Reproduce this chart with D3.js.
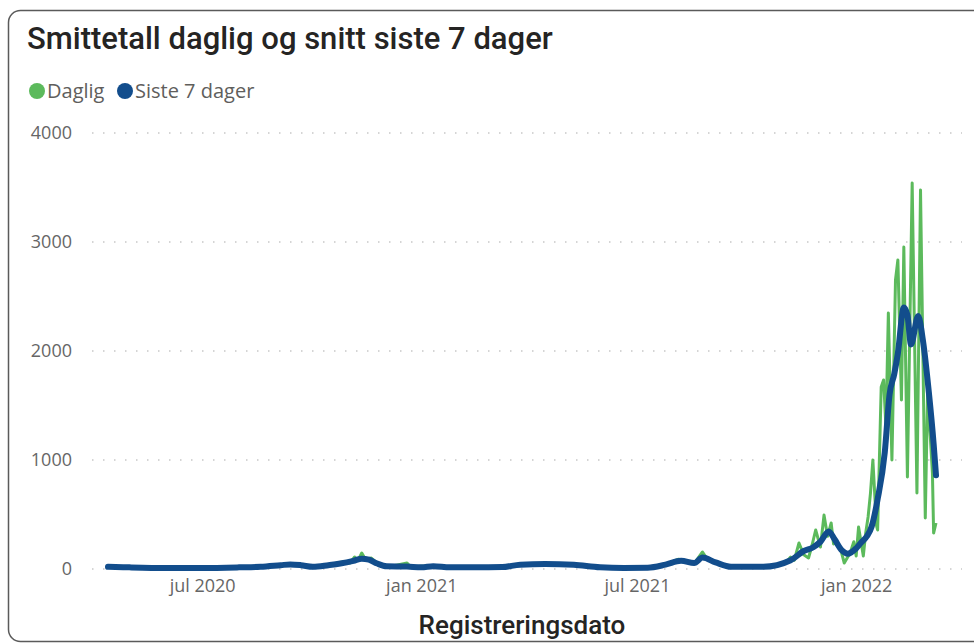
<!DOCTYPE html>
<html>
<head>
<meta charset="utf-8">
<script src="https://cdn.jsdelivr.net/npm/d3@7"></script>
<style>
  body { margin: 0; background: #fff; }
  svg { display: block; }
</style>
</head>
<body>
<div id="chart"></div>
<script>
var svgWidth = 974;
var svgHeight = 643;

// Daily cases ("Daglig")
var dailyDates = [
  "2020-04-13","2020-04-20","2020-05-05","2020-06-01","2020-07-01","2020-08-01","2020-08-20",
  "2020-09-06","2020-09-12","2020-09-20","2020-10-02","2020-10-18","2020-10-27","2020-11-02",
  "2020-11-06","2020-11-09","2020-11-12","2020-11-15","2020-11-20","2020-11-26","2020-12-05",
  "2020-12-20","2020-12-23","2021-01-11","2021-01-25","2021-02-15","2021-03-10","2021-03-25",
  "2021-04-10","2021-04-20","2021-05-09","2021-05-31","2021-06-20","2021-07-10","2021-07-25",
  "2021-08-05","2021-08-12","2021-08-18","2021-08-25","2021-08-29","2021-09-05","2021-09-18",
  "2021-10-15","2021-10-25","2021-11-03","2021-11-07","2021-11-10","2021-11-14","2021-11-18",
  "2021-11-22","2021-11-25","2021-11-28","2021-12-02","2021-12-05","2021-12-08","2021-12-11",
  "2021-12-13","2021-12-15","2021-12-19","2021-12-22","2021-12-27","2021-12-30","2022-01-01",
  "2022-01-03","2022-01-07","2022-01-09","2022-01-11","2022-01-13","2022-01-15","2022-01-18",
  "2022-01-19","2022-01-22","2022-01-24","2022-01-26","2022-01-28","2022-01-31","2022-02-03",
  "2022-02-05","2022-02-08","2022-02-10","2022-02-13","2022-02-17","2022-02-21","2022-02-24",
  "2022-02-28","2022-03-02","2022-03-04","2022-03-06","2022-03-07","2022-03-09"
];
var dailyValues = [
  25, 15, 12, 8, 10, 18, 25,
  40, 50, 30, 22, 45, 64, 55,
  110, 80, 147, 90, 100, 45, 20,
  55, 20, 30, 15, 18, 20, 45,
  50, 40, 42, 15, 10, 14, 45,
  90, 70, 50, 156, 90, 60, 20,
  22, 40, 60, 110, 80, 239, 130,
  101, 220, 358, 202, 495, 300, 422,
  230, 250, 180, 55, 150, 250, 120,
  385, 120, 330, 477, 697, 1000, 400,
  358, 1670, 1734, 1300, 2349, 1000, 2651,
  2835, 1550, 2954, 844, 3541, 697, 3477,
  468, 1642, 1250, 881, 330, 422
];

// 7-day average ("Siste 7 dager")
var avgDates = [
  "2020-04-13","2020-05-01","2020-06-01","2020-07-01","2020-08-01","2020-08-19","2020-09-05",
  "2020-09-13","2020-09-22","2020-10-02","2020-10-15","2020-10-25","2020-11-05","2020-11-12",
  "2020-11-18","2020-11-25","2020-12-03","2020-12-20","2021-01-01","2021-01-11","2021-01-25",
  "2021-02-15","2021-03-10","2021-03-25","2021-04-15","2021-05-09","2021-05-31","2021-06-20",
  "2021-07-10","2021-07-25","2021-08-07","2021-08-18","2021-08-25","2021-09-05","2021-09-18",
  "2021-10-15","2021-11-07","2021-11-18","2021-11-26","2021-12-02","2021-12-09","2021-12-14",
  "2021-12-20","2021-12-25","2022-01-01","2022-01-05","2022-01-10","2022-01-14","2022-01-19",
  "2022-01-25","2022-01-29","2022-02-02","2022-02-05","2022-02-10","2022-02-13","2022-02-16",
  "2022-02-22","2022-02-26","2022-03-03","2022-03-07","2022-03-09"
];
var avgValues = [
  20, 15, 10, 10, 15, 20, 35,
  42, 35, 20, 35, 50, 75, 95,
  85, 50, 25, 22, 15, 25, 15,
  15, 18, 40, 45, 38, 15, 10,
  12, 40, 75, 55, 105, 60, 20,
  20, 80, 165, 200, 250, 345, 270,
  170, 140, 190, 240, 300, 390, 640,
  1070, 1600, 1790, 1980, 2400, 2330, 2060,
  2320, 2100, 1620, 1150, 860
];

var yTicks = [0, 1000, 2000, 3000, 4000];
var xTickDates = ["2020-07-01", "2021-01-01", "2021-07-01", "2022-01-01"];
var xTickLabels = ["jul 2020", "jan 2021", "jul 2021", "jan 2022"];

var seriesNames = ["Daglig", "Siste 7 dager"];
var seriesColors = ["#5cba5c", "#124d8c"];

var parseDate = d3.timeParse("%Y-%m-%d");
var daily = dailyDates.map((d, i) => ({ date: parseDate(d), value: dailyValues[i] }));
var avg = avgDates.map((d, i) => ({ date: parseDate(d), value: avgValues[i] }));

var svg = d3.select("#chart")
  .append("svg")
  .attr("width", svgWidth)
  .attr("height", svgHeight);

// card border (runs off the right edge)
svg.append("rect")
  .attr("x", 8.5)
  .attr("y", 10.5)
  .attr("width", 1000)
  .attr("height", 631)
  .attr("rx", 12)
  .attr("fill", "#fff")
  .attr("stroke", "#5a5a5a")
  .attr("stroke-width", 1.5);

svg.append("text")
  .attr("x", 27)
  .attr("y", 49)
  .attr("font-family", "Roboto")
  .attr("font-weight", 500)
  .attr("font-size", 31)
  .attr("fill", "#252423")
  .text("Smittetall daglig og snitt siste 7 dager");

// legend
var legend = svg.append("g").attr("transform", "translate(37, 91)");
var legendX = [0, 88];
seriesNames.forEach((name, i) => {
  var g = legend.append("g").attr("transform", `translate(${legendX[i]}, 0)`);
  g.append("circle").attr("r", 8).attr("fill", seriesColors[i]);
  g.append("text")
    .attr("x", 10)
    .attr("y", 7)
    .attr("font-family", "Open Sans")
    .attr("font-size", 20)
    .attr("fill", "#605e5c")
    .text(name);
});

var x = d3.scaleTime()
  .domain([parseDate("2020-04-13"), parseDate("2022-03-09")])
  .range([108, 936]);

var y = d3.scaleLinear()
  .domain([0, 4000])
  .range([569, 133]);

// dotted gridlines
svg.append("g")
  .selectAll("line")
  .data(yTicks)
  .enter()
  .append("line")
  .attr("x1", 92)
  .attr("x2", 962)
  .attr("y1", d => y(d))
  .attr("y2", d => y(d))
  .attr("stroke", "#c8c8c8")
  .attr("stroke-width", 1.5)
  .attr("stroke-dasharray", "1.5,9.5");

// y axis labels
var yAxis = svg.append("g")
  .attr("transform", "translate(72, 0)")
  .call(d3.axisLeft(y).tickValues(yTicks).tickSize(0).tickPadding(0).tickFormat(d3.format("d")));
yAxis.select(".domain").remove();
yAxis.selectAll("text")
  .attr("font-family", "Open Sans")
  .attr("font-size", 18)
  .attr("fill", "#666");

// x axis labels
var xAxis = svg.append("g")
  .attr("transform", "translate(0, 576)")
  .call(d3.axisBottom(x)
    .tickValues(xTickDates.map(parseDate))
    .tickSize(0)
    .tickPadding(0)
    .tickFormat((d, i) => xTickLabels[i]));
xAxis.select(".domain").remove();
xAxis.selectAll("text")
  .attr("dy", "0.9em")
  .attr("font-family", "Open Sans")
  .attr("font-size", 18)
  .attr("fill", "#666");

svg.append("text")
  .attr("x", 522)
  .attr("y", 634)
  .attr("text-anchor", "middle")
  .attr("font-family", "Roboto")
  .attr("font-weight", 500)
  .attr("font-size", 26)
  .attr("fill", "#252423")
  .text("Registreringsdato");

var line = d3.line()
  .x(d => x(d.date))
  .y(d => y(d.value));

svg.append("path")
  .datum(daily)
  .attr("fill", "none")
  .attr("stroke", seriesColors[0])
  .attr("stroke-width", 3)
  .attr("stroke-linejoin", "round")
  .attr("d", line);

svg.append("path")
  .datum(avg)
  .attr("fill", "none")
  .attr("stroke", seriesColors[1])
  .attr("stroke-width", 6)
  .attr("stroke-linejoin", "round")
  .attr("stroke-linecap", "round")
  .attr("d", d3.line().curve(d3.curveMonotoneX).x(d => x(d.date)).y(d => y(d.value)));
</script>
</body>
</html>
